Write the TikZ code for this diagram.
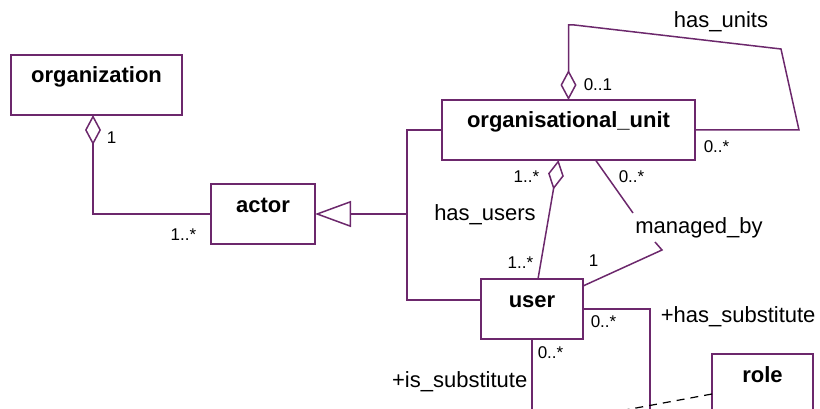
\documentclass[tikz,border=0pt]{standalone}
\usepackage{fontspec}
\setmainfont{Liberation Sans}
\usetikzlibrary{arrows.meta,positioning}
\definecolor{umlline}{RGB}{108,40,108}

\begin{document}
\begin{tikzpicture}[x=1pt,y=1pt,auto,line width=1.5pt]
	\tikzstyle{class}=[rectangle, draw=umlline, inner sep=0pt, outer sep=0pt, text height=28pt, text depth=32pt, font=\fontsize{22}{26}\selectfont\bfseries]
	\tikzstyle{assoc}=[draw=umlline]
	\tikzstyle{agg}=[assoc, {Diamond[open,length=30pt,width=16pt]}-]
	\tikzstyle{gen}=[assoc, -{Triangle[open,length=36pt,width=26pt]}]
	\tikzstyle{dep}=[draw=black, dash pattern=on 8pt off 6pt, line width=1.2pt]
	\tikzstyle{rolename}=[font=\fontsize{22}{26}\selectfont, inner sep=0pt]
	\tikzstyle{multi}=[font=\fontsize{17}{20}\selectfont, inner sep=0pt]

	\useasboundingbox (0,0) rectangle (820,-409);
	\clip (0,0) rectangle (820,-409);

	\node [class, minimum width=171pt] (org) at (96.5,-85) {organization};
	\node [class, minimum width=104pt] (actor) [below right=69pt and 29pt of org] {actor};
	\node [class, minimum width=253pt] (unit) [above right=24pt and 127pt of actor] {organisational\_unit};
	\node [class, minimum width=102pt] (user) [below right=35pt and 166pt of actor] {user};
	\node [class, minimum width=101pt] (role) [below right=15pt and 129pt of user] {role};

	\draw [agg] ([xshift=-3.5pt]org.south) |- (actor.west);
	\node [multi, anchor=west] (m_org) at (106,-138) {1};
	\node [multi, anchor=east] (m_actor) at (197,-235) {1..*};

	\coordinate (gpt) at (407,-214);
	\draw [gen] (gpt) -- (actor.east |- gpt);
	\draw [assoc] (unit.west) -| (gpt) |- ([yshift=9pt]user.west);

	\draw [agg] (unit.north) -- ++(0,75) -- ++(6,0) -- (781,-49) -- (799,-130) -- (unit.east);
	\node [rolename] (l_units) at (721,-22) {has\_units};
	\node [multi, anchor=west] (m_units1) at (583,-85) {0..1};
	\node [multi, anchor=west] (m_units2) at (703,-147) {0..*};

	\draw [agg] ([xshift=-10pt]unit.south) -- ([xshift=6pt]user.north);
	\node [multi, anchor=east] (m_users1) at (540,-177) {1..*};
	\node [rolename] (l_users) at (485,-215) {has\_users};
	\node [multi, anchor=east] (m_users2) at (534,-263) {1..*};

	\node [rolename] (l_mngd) at (699,-228) {managed\_by};
	\draw [assoc] ([xshift=27pt]unit.south) -- (633,-213);
	\draw [assoc] (655,-242) -- (662,-250) -- ([yshift=-7pt]user.north east);
	\node [multi, anchor=west] (m_mngd1) at (618,-177) {0..*};
	\node [multi, anchor=west] (m_mngd2) at (588,-261) {1};

	\draw [assoc] (user.east) -| (650,-440) -| (user.south);
	\node [multi, anchor=west] (m_has) at (590,-322) {0..*};
	\node [rolename, anchor=west] (l_has) at (660,-317) {+has\_substitute};
	\node [multi, anchor=west] (m_is) at (537,-353) {0..*};
	\node [rolename, anchor=east] (l_is) at (528,-382) {+is\_substitute};

	\draw [dep] ([yshift=-10pt]role.west) -- (560,-422);
\end{tikzpicture}
\end{document}
